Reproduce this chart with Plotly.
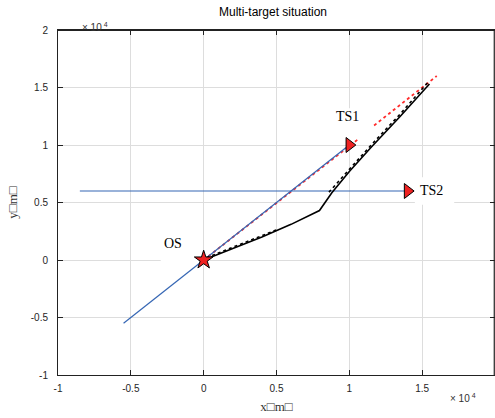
import plotly.graph_objects as go

# data in units of 1e4 m
os_xy = (0.0, 0.0)
ts1_xy = (1.0, 1.0)
ts2_xy = (1.4, 0.6)

ts1_track_x = [-0.55, 1.0]
ts1_track_y = [-0.55, 1.0]
ts2_track_x = [-0.85, 1.4]
ts2_track_y = [0.6, 0.6]

pred_x = [0.0, 1.07, None, 1.17, 1.6]
pred_y = [0.0, 1.06, None, 1.17, 1.6]

os_true_x = [0.0, 0.2, 0.4, 0.6, 0.795, 0.88, 1.0, 1.15, 1.35, 1.55]
os_true_y = [0.0, 0.1, 0.2, 0.31, 0.43, 0.585, 0.77, 0.98, 1.25, 1.53]

os_est_x = [0.02, 0.2, 0.4, 0.5, None, 0.86, 1.0, 1.15, 1.35, 1.54]
os_est_y = [0.02, 0.112, 0.212, 0.262, None, 0.59, 0.79, 1.0, 1.27, 1.545]

labels = ["OS", "TS1", "TS2"]
label_x = [-0.21, 0.985, 1.565]
label_y = [0.14, 1.245, 0.605]

tick_vals = [-1, -0.5, 0, 0.5, 1, 1.5, 2]
tick_text = ["-1", "-0.5", "0", "0.5", "1", "1.5", "2"]

W, H = 495, 418
L, R, T, B = 58, 0, 30, 43

blue = "#3566b4"
serif = "Liberation Serif, Times New Roman, serif"
sans = "Liberation Sans, Arial, sans-serif"

fig = go.Figure()
fig.add_trace(go.Scatter(x=pred_x, y=pred_y, mode="lines",
                         line=dict(color="#ff2a2a", width=1.8, dash="dot")))
fig.add_trace(go.Scatter(x=ts1_track_x, y=ts1_track_y, mode="lines",
                         line=dict(color=blue, width=1.2)))
fig.add_trace(go.Scatter(x=ts2_track_x, y=ts2_track_y, mode="lines",
                         line=dict(color=blue, width=1.2)))
fig.add_trace(go.Scatter(x=os_true_x, y=os_true_y, mode="lines",
                         line=dict(color="black", width=1.6)))
fig.add_trace(go.Scatter(x=os_est_x, y=os_est_y, mode="lines",
                         line=dict(color="black", width=1.6, dash="dot")))
fig.add_trace(go.Scatter(x=[ts1_xy[0], ts2_xy[0]], y=[ts1_xy[1], ts2_xy[1]], mode="markers",
                         marker=dict(symbol="triangle-right", size=13, color="#ee2222",
                                     line=dict(color="black", width=1))))
fig.add_trace(go.Scatter(x=[os_xy[0]], y=[os_xy[1]], mode="markers",
                         marker=dict(symbol="star", size=14, color="#ee2222",
                                     line=dict(color="black", width=1))))

# white label backgrounds (cover gridlines only)
boxes = [(-0.295, -0.01, -0.03, 0.21), (0.86, 1.04, 1.18, 1.32), (1.45, 0.48, 1.72, 0.72)]
for (bx0, by0, bx1, by1) in boxes:
    fig.add_shape(type="rect", xref="x", yref="y", x0=bx0, y0=by0, x1=bx1, y1=by1,
                  fillcolor="white", line=dict(width=0), layer="between")

# top and right border of axes box, drawn in data coordinates
fig.add_shape(type="line", xref="x", yref="y", x0=-1, y0=1.996, x1=2, y1=1.996,
              line=dict(color="#222222", width=1.2), layer="above")
fig.add_shape(type="line", xref="x", yref="y", x0=1.995, y0=-1, x1=1.995, y1=2,
              line=dict(color="#222222", width=1.2), layer="above")

for t, lx, ly in zip(labels, label_x, label_y):
    fig.add_annotation(x=lx, y=ly, xref="x", yref="y", text=t, showarrow=False,
                       font=dict(family=serif, size=14, color="black"))

pw, ph = W - L - R, H - T - B
def px_to_paper(px, py):
    return (px - L) / pw, (H - B - py) / ph
x1, y1 = px_to_paper(80, 19)
x2, y2 = px_to_paper(478, 406)
for (ax, ay) in [(x1, y1), (x2, y2)]:
    fig.add_annotation(x=ax, y=ay, xref="paper", yref="paper", text="× 10<sup> 4</sup>",
                       showarrow=False, font=dict(family=sans, size=10, color="#333"))

axis_common = dict(
    range=[-1, 2], tickvals=tick_vals, ticktext=tick_text,
    showline=True, linecolor="#222222", linewidth=1, mirror="ticks",
    ticks="inside", ticklen=5, tickcolor="#222222",
    showgrid=True, gridcolor="#dddddd", gridwidth=1, zeroline=False,
    tickfont=dict(family=sans, size=10, color="#262626"),
)
fig.update_xaxes(**axis_common, ticklabelstandoff=4,
                 title=dict(text="x□m□", font=dict(family=serif, size=13, color="#333"), standoff=8))
fig.update_yaxes(**axis_common, ticklabelstandoff=7,
                 title=dict(text="y□m□", font=dict(family=serif, size=13, color="#333"), standoff=10))

fig.update_layout(
    width=W, height=H, margin=dict(l=L, r=R, t=T, b=B),
    showlegend=False, plot_bgcolor="white", paper_bgcolor="white",
    title=dict(text="Multi-target situation", x=273 / W, xanchor="center",
               y=1 - 12 / H, yanchor="middle", font=dict(family=sans, size=12, color="black")),
)
fig.write_html("out.html")
